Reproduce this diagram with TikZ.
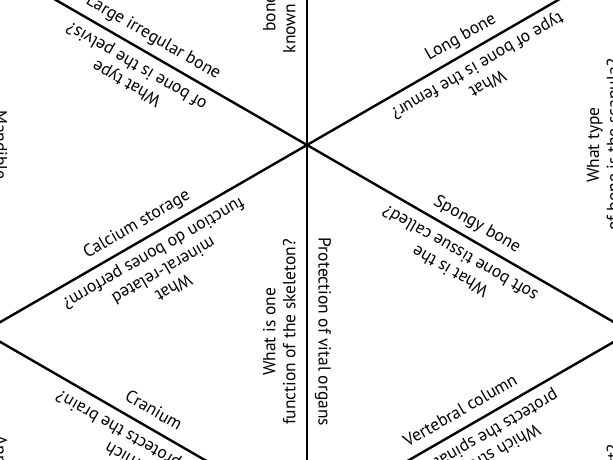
\documentclass[tikz,border=0pt]{standalone}
\usepackage{fontspec}
\setmainfont{PT Sans}
\usetikzlibrary{calc}

\begin{document}
\begin{tikzpicture}[x=1pt,y=1pt]
\tikzstyle{E}=[line width=2.4pt,line cap=round]
\tikzstyle{Q}=[anchor=south,align=center,inner sep=7pt,text depth=4.5pt,font=\fontsize{17.5}{20}\selectfont]
\useasboundingbox (0,0) rectangle (613,460);
\clip (0,0) rectangle (613,460);
% corners of the tiles
\coordinate (C) at (307,315);
\coordinate (UL) at ($(C)+(150:374)$); \coordinate (UR) at ($(C)+(30:374)$);
\coordinate (L) at ($(C)+(210:374)$); \coordinate (R) at ($(C)+(-30:374)$);
\coordinate (T) at ($(C)+(90:374)$); \coordinate (B) at ($(C)+(-90:374)$);
\coordinate (LL) at ($(L)+(-90:374)$); \coordinate (RR) at ($(R)+(-90:374)$);
\draw[E] (UL)--(L)--(B)--(R)--(UR)--(T)--cycle;
\draw[E] (UL)--(R); \draw[E] (UR)--(L); \draw[E] (T)--(B);
\draw[E] (L)--(LL); \draw[E] (R)--(RR);
% labels on both sides of each edge
\node[Q,rotate=-30] (irreg) at ($(C)!0.5!(UL)$) {Large irregular bone};
\node[Q,rotate=150] (pelvis) at ($(C)!0.5!(UL)$) {What type\\of bone is the pelvis?};
\node[Q,rotate=30] (long) at ($(C)!0.5!(UR)$) {Long bone};
\node[Q,rotate=210] (femur) at ($(C)!0.5!(UR)$) {What\\type of bone is the femur?};
\node[Q,rotate=30] (calcium) at ($(C)!0.5!(L)$) {Calcium storage};
\node[Q,rotate=210] (mineral) at ($(C)!0.5!(L)$) {What\\mineral-related\\function do bones perform?};
\node[Q,rotate=-30] (spongy) at ($(C)!0.5!(R)$) {Spongy bone};
\node[Q,rotate=150] (tissue) at ($(C)!0.5!(R)$) {What is the\\soft bone tissue called?};
\node[Q,rotate=90] (function) at ($(C)!0.5!(B)$) {What is one\\function of the skeleton?};
\node[Q,rotate=-90] (protect) at ($(C)!0.5!(B)$) {Protection of vital organs};
\node[Q,rotate=90] (collar) at ($(C)!0.5!(T)$) {Which\\bone is also usually\\known as the collarbone?};
\node[Q,rotate=-90] (mandible) at ($(L)!0.5!(UL)$) {Mandible};
\node[Q,rotate=90] (scapula) at ($(R)!0.5!(UR)$) {What type\\of bone is the scapula?};
\node[Q,rotate=-30] (cranium) at ($(L)!0.5!(B)$) {Cranium};
\node[Q,rotate=150] (brain) at ($(L)!0.5!(B)$) {Which\\bone protects the brain?};
\node[Q,rotate=30] (vertebral) at ($(B)!0.5!(R)$) {Vertebral column};
\node[Q,rotate=210] (spinal) at ($(B)!0.5!(R)$) {Which structure\\protects the spinal cord?};
\node[Q,rotate=-90] (append) at ($(L)!0.5!(LL)$) {Appendicular skeleton};
\node[Q,rotate=90] (wrist) at ($(R)!0.5!(RR)$) {What forms a wrist?};
\end{tikzpicture}
\end{document}
